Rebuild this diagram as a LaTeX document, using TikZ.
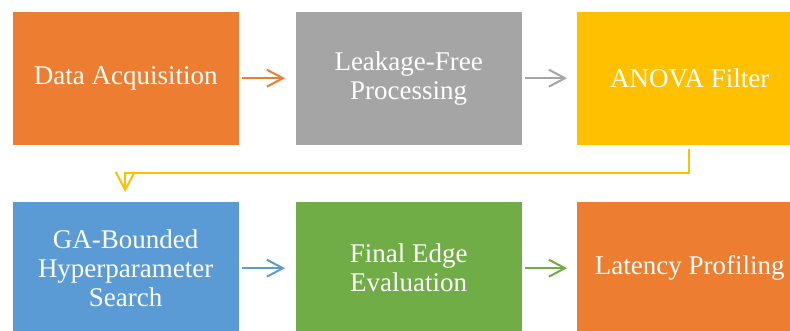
\documentclass[tikz,border=0pt]{standalone}
\usepackage{fontspec}
\setmainfont{Liberation Serif}
\usetikzlibrary{arrows.meta}
\definecolor{cOrange}{HTML}{ED7D31}
\definecolor{cGray}{HTML}{A5A5A5}
\definecolor{cGold}{HTML}{FFC000}
\definecolor{cBlue}{HTML}{5B9BD5}
\definecolor{cGreen}{HTML}{70AD47}
\begin{document}
\begin{tikzpicture}[x=1pt,y=-1pt,
  box/.style={minimum width=227pt, minimum height=134pt, inner sep=0pt,
    text=white, font=\fontsize{27}{29}\selectfont, align=center, anchor=north west,
    draw=white, line width=0.4pt},
  arr/.style={line width=2pt, -{Straight Barb[length=16pt,width=17pt]}}]
\clip (0,0) rectangle (790,331);
\fill[white] (0,0) rectangle (790,331);
\node[box, fill=cOrange] (a) at (12,11) {Data Acquisition};
\node[box, fill=cGray]   (b) at (295,11) {Leakage-Free\\Processing};
\node[box, fill=cGold]   (c) at (576,11) {ANOVA Filter};
\node[box, fill=cBlue]   (d) at (12,201) {GA-Bounded\\Hyperparameter\\Search};
\node[box, fill=cGreen]  (e) at (295,201) {Final Edge\\Evaluation};
\node[box, fill=cOrange] (f) at (576,201) {Latency Profiling};
\draw[arr, draw=cOrange] ([xshift=3pt]a.east) -- ([xshift=-10pt]b.west);
\draw[arr, draw=cGray]   ([xshift=3pt]b.east) -- ([xshift=-9pt]c.west);
\draw[arr, draw=cBlue]   ([xshift=3pt]d.east) -- ([xshift=-10pt]e.west);
\draw[arr, draw=cGreen]  ([xshift=3pt]e.east) -- ([xshift=-9pt]f.west);
\draw[line width=2pt, draw=cGold, -{Straight Barb[length=18pt,width=19pt]}]
  ([xshift=-0.5pt,yshift=-4pt]c.south) -- ++(0,24) -| ([xshift=-0.5pt,yshift=9pt]d.north);
\end{tikzpicture}
\end{document}
